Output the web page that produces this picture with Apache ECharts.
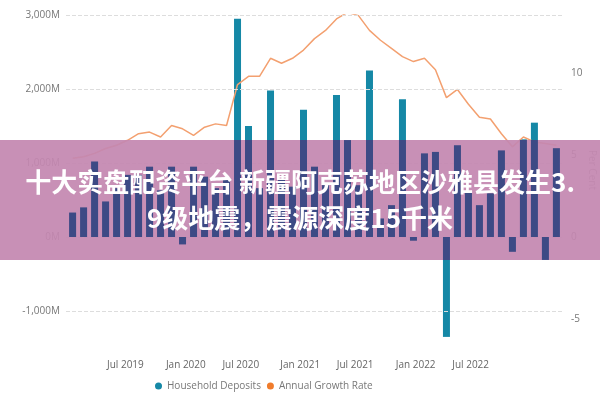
<!DOCTYPE html>
<html><head><meta charset="utf-8">
<script src="https://cdn.jsdelivr.net/npm/echarts@6/dist/echarts.min.js"></script>
<style>html,body{margin:0;padding:0;background:#fff}#c{width:600px;height:400px}</style>
</head><body><div id="c"></div>
<script>
const deposits = [330,400,1020,480,660,840,840,950,630,950,-100,950,815,660,800,2950,1500,660,1980,770,680,1720,950,700,1920,1310,700,2250,250,430,1860,-50,1130,1150,-1350,1240,610,430,590,1170,-200,1320,1545,-310,1200];
const growth = [4.8,4.9,5.1,5.4,5.6,5.9,6.3,6.4,6.1,6.8,6.6,6.2,6.7,6.9,6.8,9.3,9.8,9.8,10.9,10.6,10.9,11.4,12.1,12.6,13.3,13.7,13.5,12.6,12.0,11.5,11.0,10.7,10.9,10.2,8.5,9.0,8.1,7.3,7.2,6.3,5.5,6.1,5.8,5.7,5.6];
const xTickPos = [4.8,10.3,15.3,20.7,25.7,31.2,36.2];
const xTickLabels = ['Jul 2019','Jan 2020','Jul 2020','Jan 2021','Jul 2021','Jan 2022','Jul 2022'];
const leftTicks = [-1000,0,1000,2000,3000];
const rightTicks = [-5,0,5,10];
const title1 = '十大实盘配资平台 新疆阿克苏地区沙雅县发生3.';
const title2 = '9级地震，震源深度15千米';

const pts = deposits.map((v,i)=>[i,v]);
const gpts = growth.map((v,i)=>[i,v]);
const fmtM = v => (v<0?'-':'') + Math.abs(v).toLocaleString('en-US') + 'M';
const chart = echarts.init(document.getElementById('c'));
const xCommon = {type:'value',min:-0.6,max:44.6,splitLine:{show:false},axisLine:{show:false},axisTick:{show:false}};
chart.setOption({
  animation:false,
  textStyle:{fontFamily:'Open Sans'},
  grid:[{left:66,right:37,top:15,bottom:50,outerBoundsMode:'none',containLabel:false},
        {left:66,right:37,top:140,height:120,outerBoundsMode:'none',containLabel:false}],
  xAxis:[
    Object.assign({},xCommon,{gridIndex:0,axisLabel:{customValues:xTickPos,formatter:v=>{const k=xTickPos.indexOf(v);return k>=0?xTickLabels[k]:'';},color:'#666',fontSize:10,margin:10}}),
    Object.assign({},xCommon,{gridIndex:1,axisLabel:{show:false}})
  ],
  yAxis:[
    {type:'value',gridIndex:0,min:-1527,max:3000,splitLine:{show:false},axisLine:{show:false},axisTick:{show:false},
     axisLabel:{customValues:leftTicks,formatter:fmtM,color:'#777',fontSize:10,margin:6}},
    {type:'value',gridIndex:0,min:-6.89,max:13.54,position:'right',splitLine:{show:false},axisLine:{show:false},axisTick:{show:false},
     axisLabel:{customValues:rightTicks,color:'#777',fontSize:10,margin:8}},
    {type:'value',gridIndex:1,min:-311,max:1311,show:false}
  ],
  legend:{bottom:4,left:150,itemWidth:7,itemHeight:7,itemGap:6,icon:'circle',textStyle:{color:'#777',fontSize:10},
    data:['Household Deposits','Annual Growth Rate']},
  graphic:[
    {type:'text',z:10,x:592,y:170,rotation:-Math.PI/2,style:{text:'Per Cent',fill:'#999',font:'10px "Open Sans"',textAlign:'center',textVerticalAlign:'middle'}},
    {type:'rect',z:50,shape:{x:0,y:140,width:600,height:120},style:{fill:'rgba(196,136,176,0.93)'}},
    {type:'text',z:60,left:'center',top:169,style:{text:title1,fill:'#fff',font:'bold 26px "Noto Sans CJK SC"'}},
    {type:'text',z:60,left:'center',top:205,style:{text:title2,fill:'#fff',font:'bold 26px "Noto Sans CJK SC"'}}
  ],
  series:[
    {name:'Household Deposits',type:'bar',xAxisIndex:0,yAxisIndex:0,data:pts,barWidth:7,itemStyle:{color:'#1588a6'},
     markLine:{silent:true,symbol:'none',label:{show:false},lineStyle:{color:'#ddd',type:'dashed',width:1},data:leftTicks.map(v=>({yAxis:v}))}},
    {name:'Annual Growth Rate',type:'line',xAxisIndex:0,yAxisIndex:1,data:gpts,symbol:'none',lineStyle:{color:'#f3a070',width:1.5},itemStyle:{color:'#f07c2c'}},
    {name:'bandBars',type:'bar',xAxisIndex:1,yAxisIndex:2,data:pts,barWidth:7,z:55,clip:true,itemStyle:{color:'#3d4a85'},legendHoverLink:false}
  ]
});
</script></body></html>
